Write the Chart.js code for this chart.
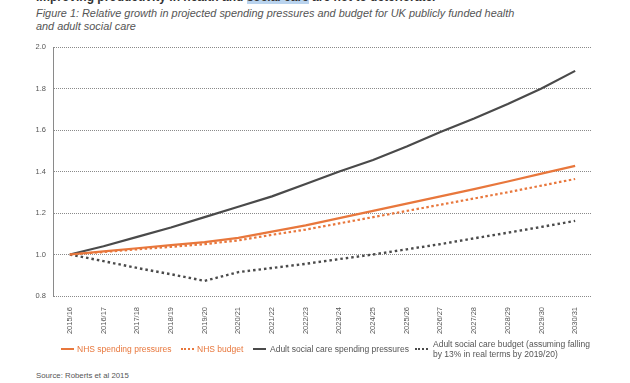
<!DOCTYPE html>
<html>
<head>
<meta charset="utf-8">
<script src="https://cdn.jsdelivr.net/npm/chart.js@4"></script>
<style>
  html,body{margin:0;padding:0;background:#fff;width:630px;height:383px;overflow:hidden;font-family:"Liberation Sans",Arial,sans-serif;}
  #cut{position:absolute;left:36px;top:-10px;font-size:12px;font-weight:bold;color:#333;white-space:nowrap;}
  #cut span{background:#b9d3ee;}
  #title{position:absolute;left:36px;top:7px;font-size:10.9px;font-style:italic;color:#555;line-height:13px;white-space:nowrap;}
  #wrap{position:absolute;left:0;top:0;width:630px;height:340px;}
  .li{position:absolute;top:339px;display:flex;align-items:center;font-size:8.5px;white-space:nowrap;height:19px;}
  .sw{width:13px;height:0;}
  #source{position:absolute;left:36px;top:371px;font-size:7.8px;color:#555;}
</style>
</head>
<body>
<div id="cut">improving productivity in health and <span>social care</span> are not to deteriorate.</div>
<div id="title">Figure 1: Relative growth in projected spending pressures and budget for UK publicly funded health<br>and adult social care</div>
<div id="wrap"><canvas id="c" width="630" height="340"></canvas></div>
<div id="source">Source: Roberts et al 2015</div>
<script>
const categories = ["2015/16","2016/17","2017/18","2018/19","2019/20","2020/21","2021/22","2022/23","2023/24","2024/25","2025/26","2026/27","2027/28","2028/29","2029/30","2030/31"];
const nhsSpendingPressures = [1.00,1.015,1.03,1.045,1.06,1.08,1.11,1.14,1.175,1.21,1.245,1.28,1.315,1.352,1.39,1.427];
const nhsBudget = [1.00,1.012,1.025,1.037,1.05,1.068,1.095,1.12,1.15,1.18,1.21,1.24,1.27,1.30,1.332,1.364];
const ascSpendingPressures = [1.00,1.04,1.085,1.13,1.18,1.23,1.28,1.34,1.40,1.455,1.52,1.59,1.655,1.725,1.80,1.885];
const ascBudget = [1.00,0.968,0.935,0.905,0.873,0.915,0.935,0.955,0.978,1.00,1.025,1.05,1.078,1.105,1.133,1.162];
const yTicks = [0.8,1.0,1.2,1.4,1.6,1.8,2.0];
const legendLabels = ["NHS spending pressures","NHS budget","Adult social care spending pressures","Adult social care budget (assuming falling<br>by 13% in real terms by 2019/20)"];

const ORANGE = "#e8773c", DARK = "#4a4a4a";
const series = [
  {label: legendLabels[0], data: nhsSpendingPressures, color: ORANGE, dash: [], width: 2.2, text: ORANGE},
  {label: legendLabels[1], data: nhsBudget, color: ORANGE, dash: [2.5,2.5], width: 2.2, text: ORANGE},
  {label: legendLabels[2], data: ascSpendingPressures, color: DARK, dash: [], width: 2.2, text: "#555"},
  {label: legendLabels[3], data: ascBudget, color: DARK, dash: [2.5,3], width: 2.4, text: "#555"}
];

new Chart(document.getElementById("c"), {
  type: "line",
  data: {
    labels: categories,
    datasets: series.map(s => ({
      label: s.label.replace("<br>"," "),
      data: s.data,
      borderColor: s.color,
      borderDash: s.dash,
      borderWidth: s.width,
      pointRadius: 0,
      tension: 0,
      fill: false
    }))
  },
  options: {
    responsive: false,
    animation: false,
    layout: {padding: {top: 47, right: 38, left: 0, bottom: 0}},
    plugins: {legend: {display: false}, tooltip: {enabled: false}},
    scales: {
      x: {
        offset: true,
        grid: {display: false, offset: true},
        border: {display: false},
        ticks: {
          autoSkip: false, maxRotation: 90, minRotation: 90, padding: 3,
          color: "#555", font: {size: 7.5, family: "Liberation Sans"}
        },
        afterFit: a => { a.height = 44; }
      },
      y: {
        min: 0.8, max: 2.0,
        afterBuildTicks: a => { a.ticks = yTicks.map(v => ({value: v})); },
        grid: {color: "#8a8a8a", lineWidth: 1, drawTicks: false},
        border: {display: true, color: "#8a8a8a", dash: [1,1], width: 1},
        ticks: {
          padding: 7, color: "#555", font: {size: 7.5, family: "Liberation Sans"},
          callback: v => Number(v).toFixed(1)
        },
        afterFit: a => { a.width = 53; }
      }
    }
  }
});

// legend from series
const legendX = [61, 181, 253, 415];
const legendGap = [3, 3, 4, 5];
series.forEach((s, i) => {
  const d = document.createElement("div"); d.className = "li";
  d.style.left = legendX[i] + "px";
  const sw = document.createElement("div"); sw.className = "sw";
  sw.style.marginRight = legendGap[i] + "px";
  sw.style.borderTop = s.dash.length ? "2.5px dotted " + s.color : "2.5px solid " + s.color;
  const t = document.createElement("div"); t.innerHTML = s.label; t.style.color = s.text; t.style.lineHeight = "10px";
  d.appendChild(sw); d.appendChild(t); document.body.appendChild(d);
});
</script>
</body>
</html>
